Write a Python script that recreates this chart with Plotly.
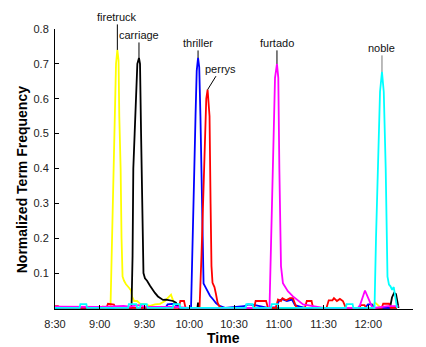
import plotly.graph_objects as go

# time in minutes after midnight
tick_vals = [510, 540, 570, 600, 630, 660, 690, 720, 750]
tick_text = ["8:30", "9:00", "9:30", "10:00", "10:30", "11:00", "11:30", "12:00", "12:30"]
y_ticks = [0.1, 0.2, 0.3, 0.4, 0.5, 0.6, 0.7, 0.8]

firetruck_t = [510, 540, 542, 545, 547.2, 548.2, 548.9, 549.8, 550.9, 551.8, 552.6, 553.1, 554.0, 554.6, 555.3,
               556.3, 557.6, 559.6, 561.0, 561.6, 563.0, 565.0, 567.0, 570.3, 573.7, 577.0, 580.4, 583.7, 585.8,
               587.8, 589.1, 591.1, 593.8, 722.5, 724.5, 726.5, 728.5, 739.3]
firetruck_v = [0, 0, 0.004, 0, 0, 0.2, 0.4, 0.55, 0.7, 0.74, 0.71, 0.55, 0.4, 0.2, 0.09,
               0.078, 0.068, 0.058, 0.05, 0.033, 0.02, 0.02, 0.012, 0.01, 0.006, 0.01, 0.012, 0.02, 0.028,
               0.038, 0.022, 0.006, 0, 0, 0.016, 0.008, 0, 0]

carriage_t = [510, 561.3, 562.0, 562.5, 563.4, 564.3, 565.2, 566.3, 567.0, 567.7, 568.1, 568.7, 569.3, 570.3,
              571.7, 573.7, 575.7, 577.0, 579.0, 580.4, 582.4, 584.4, 587.1, 589.1, 591.1, 592.1, 593.1,
              605.5, 605.9, 606.3, 734.6, 735.9, 737.3, 738.6, 739.6, 740.3]
carriage_v = [0, 0, 0.15, 0.4, 0.5, 0.62, 0.7, 0.717, 0.7, 0.5, 0.4, 0.25, 0.1, 0.085,
              0.078, 0.064, 0.05, 0.043, 0.033, 0.028, 0.023, 0.024, 0.022, 0.02, 0.015, 0.008, 0,
              0, 0.015, 0, 0, 0.03, 0.043, 0.04, 0.01, 0]

thriller_t = [510, 584, 585.5, 590, 592, 594, 601.2, 602.2, 603.4, 604.2, 605.0, 605.9, 606.7, 607.5, 608.3,
              608.9, 609.6, 610.6, 611.9, 613.9, 615.9, 617.9, 619.9, 622.0, 624.0, 636.7, 639.4, 644.1,
              648.8, 652.8, 658.2, 660.2, 662.2, 665.5, 668.9, 670.9, 674.2, 677.6, 717.8, 719.8, 722.5,
              723.9, 739.3]
thriller_v = [0, 0, 0.01, 0.012, 0.005, 0, 0, 0.15, 0.4, 0.55, 0.68, 0.717, 0.69, 0.55, 0.4,
              0.2, 0.07, 0.062, 0.05, 0.035, 0.025, 0.014, 0.007, 0.003, 0, 0.005, 0.01, 0.008,
              0.004, 0, 0.002, 0.02, 0.025, 0.02, 0.024, 0.008, 0.004, 0, 0, 0.01, 0.01,
              0, 0]

perrys_t = [510, 512, 514, 544.5, 545.5, 549.5, 550.5, 593, 594, 596.5, 597.5, 606.9, 608.2, 609.6, 610.6,
            611.4, 612.3, 612.9, 613.6, 614.3, 614.9, 615.6, 616.9, 617.9, 619.0, 620.3, 621.7, 643.5, 644.5,
            651.5, 652.8, 658, 659.5, 661.5, 662.5, 665, 667.5, 669.5, 671.5, 672.5, 677.5, 678.8, 682, 683,
            692, 693.5, 696, 697, 699, 701, 703, 704.5, 705.5, 714, 715, 717.5, 718.5, 729, 730, 734, 735,
            739.3]
perrys_v = [0.005, 0.005, 0, 0, 0.012, 0.01, 0, 0, 0.02, 0.02, 0, 0, 0.15, 0.35, 0.5,
            0.6, 0.626, 0.6, 0.55, 0.3, 0.12, 0.072, 0.06, 0.04, 0.015, 0.004, 0, 0, 0.02,
            0.02, 0, 0, 0.024, 0.02, 0.028, 0.022, 0.028, 0.028, 0.005, 0, 0, 0.02, 0.02, 0,
            0, 0.022, 0.022, 0.028, 0.02, 0.026, 0.02, 0.005, 0, 0, 0.008, 0.008, 0, 0, 0.012, 0.012, 0,
            0]

furtado_t = [510, 530, 540, 556, 560, 566, 570, 590, 600, 653.8, 654.8, 655.7, 656.5, 657.5, 658.8, 659.7,
             660.4, 660.8, 661.5, 662.8, 664.1, 666.1, 669.5, 673.0, 676.3, 683.0, 690, 713, 714.5, 717.8,
             722.3, 724, 733, 740.3]
furtado_v = [0.004, 0.004, 0.003, 0.006, 0.004, 0.008, 0.004, 0.003, 0, 0, 0.2, 0.4, 0.55, 0.66, 0.7, 0.66,
             0.4, 0.25, 0.12, 0.071, 0.062, 0.048, 0.033, 0.02, 0.01, 0.005, 0, 0, 0.008, 0.05,
             0.005, 0, 0.005, 0.005]

noble_t = [510, 526.5, 527, 531, 531.5, 559, 559.5, 564.5, 565, 567, 567.5, 571.5, 572, 589, 589.5, 593.5,
           594, 637.8, 638.3, 642.5, 643, 654.8, 655.3, 659.3, 659.8, 705, 705.5, 709.5, 710, 724.2, 725.2,
           726.5, 727.9, 729.2, 730.4, 731.7, 732.2, 732.9, 733.9, 734.9, 736.0, 737.1, 737.7, 738.6, 739.3]
noble_v = [0, 0, 0.011, 0.011, 0, 0, 0.011, 0.011, 0, 0, 0.011, 0.011, 0, 0, 0.011, 0.011,
           0, 0, 0.011, 0.011, 0, 0, 0.011, 0.011, 0, 0, 0.011, 0.011, 0, 0, 0.2,
           0.4, 0.62, 0.677, 0.62, 0.4, 0.2, 0.09, 0.067, 0.062, 0.052, 0.06, 0.043, 0.01, 0]

series = [
    ("firetruck", firetruck_t, firetruck_v, "#FFFF00", 0, -33, "black"),
    ("carriage", carriage_t, carriage_v, "#000000", 0, -23, "black"),
    ("thriller", thriller_t, thriller_v, "#0000FF", 0, -15, "black"),
    ("perrys", perrys_t, perrys_v, "#FF0000", 13, -21, "black"),
    ("furtado", furtado_t, furtado_v, "#FF00FF", 0, -21, "black"),
    ("noble", noble_t, noble_v, "#00FFFF", 0, -24, "#777777"),
]

FONT = "Liberation Sans, Arial, sans-serif"
fig = go.Figure()
annotations = []
for name, t, v, col, ax, ay, acol in series:
    fig.add_trace(go.Scatter(x=t, y=v, mode="lines", name=name,
                             line=dict(color=col, width=1.8), showlegend=False))
    i = max(range(len(v)), key=lambda k: v[k])
    annotations.append(dict(x=t[i], y=v[i], xref="x", yref="y", text=name, showarrow=True,
                            arrowhead=0, arrowwidth=1, arrowcolor=acol, standoff=0,
                            ax=ax, ay=ay, font=dict(family=FONT, size=11, color="#111")))

annotations.append(dict(text="<b>Normalized Term Frequency</b>", xref="paper", yref="paper",
                        x=-0.092, y=0.46, xanchor="center", yanchor="middle",
                        textangle=-90, showarrow=False,
                        font=dict(family=FONT, size=14, color="black")))
annotations.append(dict(text="<b>Time</b>", xref="paper", yref="paper",
                        x=0.472, y=-0.104, xanchor="center", yanchor="middle", showarrow=False,
                        font=dict(family=FONT, size=14, color="black")))

fig.update_layout(
    width=426, height=347,
    margin=dict(l=55, r=13, t=29, b=38),
    plot_bgcolor="white", paper_bgcolor="white",
    font=dict(family=FONT, size=11, color="#222"),
    annotations=annotations,
)
fig.update_xaxes(range=[510, 750], tickvals=tick_vals, ticktext=tick_text,
                 showline=True, linecolor="black", linewidth=1, ticks="inside", ticklen=4,
                 tickcolor="black", showgrid=False, zeroline=False, tickfont=dict(size=11),
                 ticklabelstandoff=5)
fig.update_yaxes(range=[-0.003, 0.8], tickvals=y_ticks, ticktext=[f"{y:.1f}" for y in y_ticks],
                 showline=True, linecolor="black", linewidth=1, ticks="inside", ticklen=4,
                 tickcolor="black", showgrid=False, zeroline=False, tickfont=dict(size=11),
                 ticklabelstandoff=3)

fig.write_html("out.html", config={"displayModeBar": False})
